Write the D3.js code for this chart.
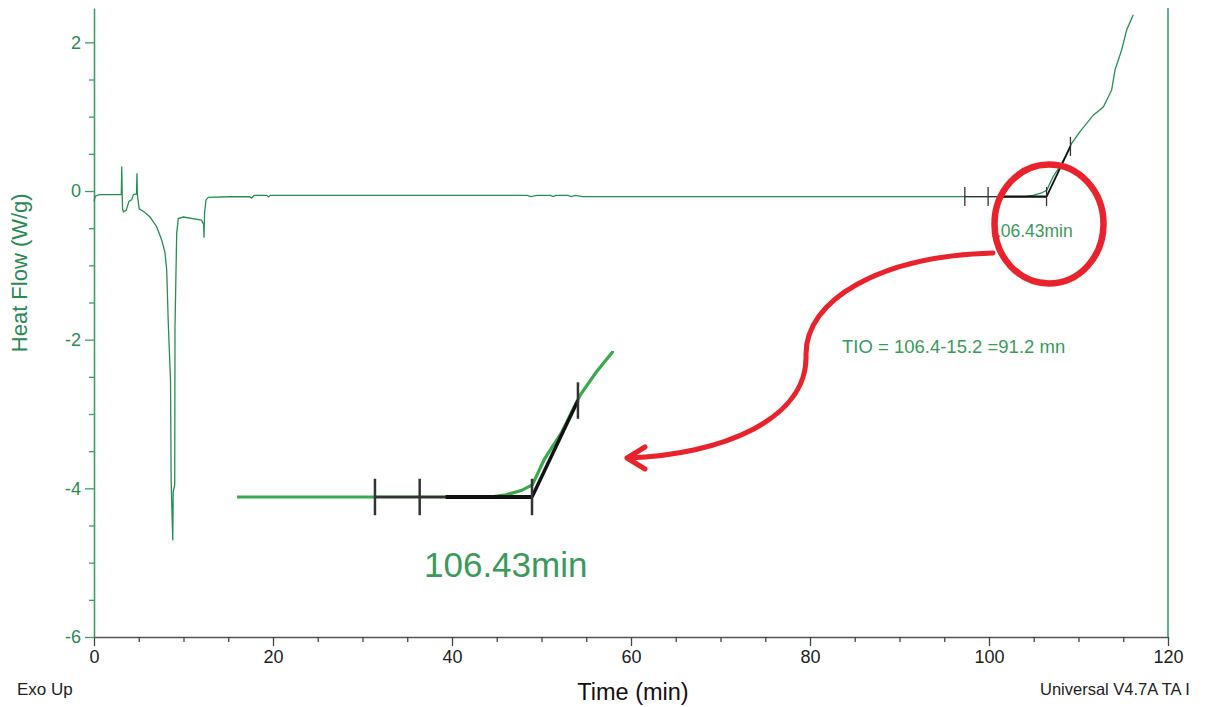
<!DOCTYPE html>
<html><head><meta charset="utf-8">
<script src="https://cdn.jsdelivr.net/npm/d3@7"></script>
<style>
body{margin:0;background:#fff}
svg{display:block}
text{font-family:"Liberation Sans",Arial,Helvetica,sans-serif}
</style></head>
<body><svg id="c" width="1207" height="707"></svg>
<script>
// ---- data ----
const time = [0,0.15,0.6,3.05,3.1,3.15,3.2,3.3,3.6,3.9,4.2,4.4,4.75,4.8,4.85,5.05,5.7,6.26,7.0,7.56,7.93,8.12,8.3,8.55,8.62,8.8,8.85,9.02,9.05,9.24,9.42,9.98,12.0,12.25,12.29,12.35,12.51,12.77,15.2,17.4,17.6,17.9,18.2,19.3,19.5,19.7,48.4,48.8,49.5,51.0,51.3,51.6,53.0,53.3,53.8,54.6,60,80,97,104,104.9,105.8,106.45,107.15,108.12,109.24,110.17,111.65,112.77,113.71,114.08,114.83,115.39,116.12];
const heatFlow = [-0.14,-0.07,-0.05,-0.05,0.33,-0.05,-0.25,-0.28,-0.26,-0.14,-0.12,-0.05,-0.04,0.24,-0.05,-0.24,-0.29,-0.35,-0.48,-0.66,-0.83,-1.06,-1.78,-2.55,-3.9,-4.7,-4.05,-3.95,-1.83,-0.57,-0.37,-0.35,-0.39,-0.45,-0.63,-0.3,-0.12,-0.085,-0.077,-0.077,-0.095,-0.06,-0.058,-0.058,-0.08,-0.058,-0.058,-0.075,-0.06,-0.06,-0.075,-0.06,-0.06,-0.075,-0.06,-0.075,-0.075,-0.075,-0.075,-0.075,-0.06,-0.03,0.01,0.19,0.37,0.64,0.80,1.02,1.13,1.36,1.63,1.90,2.17,2.37];

const xMajor = [0,20,40,60,80,100,120];
const xMinor = d3.range(0,121,5).filter(v => v % 20 !== 0);
const yMajor = [-6,-4,-2,0,2];
const yMinor = d3.range(-6,2.01,0.5).filter(v => v % 2 !== 0);

// onset analysis
const baselineMarks = [97.3, 99.9];
const onsetTime = 106.43;
const baselineValue = -0.075;
const thickStart = 101.4;
const tangentEnd = [109.1, 0.6];
const onsetLabel = "106.43min";
const tioLabel = "TIO = 106.4-15.2 =91.2 mn";

// ---- drawing ----
const svg = d3.select("#c");
const green = "#248f52", axisGreen = "#3aa06a", textGreen = "#2a8a52", red = "#e8232b";
const fmt = d => String(d);

const x = d3.scaleLinear().domain([0,120]).range([94,1168]);
const y = d3.scaleLinear().domain([-6,2.462]).range([637,8]);

const pts = time.map((t,i)=>[t,heatFlow[i]]);

// axes
const gx = svg.append("g").attr("transform","translate(0,637)");
gx.call(d3.axisBottom(x).tickValues(xMajor).tickSize(9).tickPadding(4).tickSizeOuter(0).tickFormat(fmt));
gx.select(".domain").attr("stroke","#555").attr("stroke-width",1.6);
gx.selectAll(".tick line").attr("stroke","#444").attr("stroke-width",1.3);
gx.selectAll(".tick text").attr("fill","#222").style("font-size","18px");
const gxm = svg.append("g").attr("transform","translate(0,637)");
gxm.call(d3.axisBottom(x).tickValues(xMinor).tickSize(5).tickFormat(""));
gxm.select(".domain").remove();
gxm.selectAll(".tick line").attr("stroke","#444").attr("stroke-width",1.3);

const gy = svg.append("g").attr("transform","translate(94,0)");
gy.call(d3.axisLeft(y).tickValues(yMajor).tickSize(9).tickPadding(4).tickSizeOuter(0).tickFormat(fmt));
gy.select(".domain").attr("stroke",axisGreen).attr("stroke-width",1.6);
gy.selectAll(".tick line").attr("stroke",axisGreen).attr("stroke-width",1.3);
gy.selectAll(".tick text").attr("fill",textGreen).style("font-size","18px");
const gym = svg.append("g").attr("transform","translate(94,0)");
gym.call(d3.axisLeft(y).tickValues(yMinor).tickSize(5).tickFormat(""));
gym.select(".domain").remove();
gym.selectAll(".tick line").attr("stroke",axisGreen).attr("stroke-width",1.3);

// right frame line
svg.append("line").attr("x1",x(120)).attr("x2",x(120)).attr("y1",y(2.462)).attr("y2",y(-6))
  .attr("stroke",axisGreen).attr("stroke-width",1.6);

// labels
svg.append("text").attr("transform",`translate(27,${(y(-1.1))}) rotate(-90)`)
  .attr("text-anchor","middle").attr("fill",textGreen).style("font-size","22px").text("Heat Flow (W/g)");
svg.append("text").attr("x",633).attr("y",700).attr("text-anchor","middle").attr("fill","#111")
  .style("font-size","23.5px").text("Time (min)");
svg.append("text").attr("x",17).attr("y",695).attr("fill","#222").style("font-size","17px").text("Exo Up");
svg.append("text").attr("x",1040).attr("y",695).attr("fill","#222").style("font-size","16.5px").text("Universal V4.7A TA I");

// main curve
const line = d3.line().x(d=>x(d[0])).y(d=>y(d[1]));
svg.append("path").datum(pts).attr("d",line).attr("fill","none").attr("stroke",green).attr("stroke-width",1.3);

// onset analysis construction
function analysis(g, xs, ys, k){
  g.append("line").attr("x1",xs(baselineMarks[0])).attr("x2",xs(thickStart)).attr("y1",ys(baselineValue)).attr("y2",ys(baselineValue))
    .attr("stroke","#333").attr("stroke-width",1.2*k);
  g.append("line").attr("x1",xs(thickStart)).attr("x2",xs(onsetTime)).attr("y1",ys(baselineValue)).attr("y2",ys(baselineValue))
    .attr("stroke","#111").attr("stroke-width",2.2*k);
  g.append("line").attr("x1",xs(onsetTime)).attr("x2",xs(tangentEnd[0])).attr("y1",ys(baselineValue)).attr("y2",ys(tangentEnd[1]))
    .attr("stroke","#111").attr("stroke-width",1.8*k);
  const marks = [[baselineMarks[0],baselineValue],[baselineMarks[1],baselineValue],[onsetTime,baselineValue],tangentEnd];
  g.selectAll(null).data(marks).join("line")
    .attr("x1",d=>xs(d[0])).attr("x2",d=>xs(d[0]))
    .attr("y1",d=>ys(d[1])-9.5*k).attr("y2",d=>ys(d[1])+9.5*k)
    .attr("stroke","#333").attr("stroke-width",1.3*k);
}
analysis(svg.append("g"), x, y, 1);

svg.append("text").attr("x",991).attr("y",237).attr("fill","#3a9a5a").style("font-size","17.5px").text(onsetLabel);
svg.append("text").attr("x",842).attr("y",353).attr("fill","#3a9a5a").style("font-size","18.5px").text(tioLabel);

// inset (magnified view of the onset)
const xi = d3.scaleLinear().domain([89.28,111.08]).range([237,612]);
const yi = d3.scaleLinear().domain([-0.075,0.94]).range([497,352]);
svg.append("clipPath").attr("id","ic").append("rect").attr("x",237).attr("y",351).attr("width",377).attr("height",240);
const gi = svg.append("g").attr("clip-path","url(#ic)");
const linei = d3.line().x(d=>xi(d[0])).y(d=>yi(d[1]));
gi.append("path").datum(pts).attr("d",linei).attr("fill","none").attr("stroke","#3aa84e").attr("stroke-width",3.2);
analysis(gi, xi, yi, 1.92);
svg.append("text").attr("x",424).attr("y",577).attr("fill","#3a9a5a").style("font-size","35px").text(onsetLabel);

// red annotation
svg.append("ellipse").attr("cx",1049).attr("cy",224).attr("rx",54.5).attr("ry",59.5)
  .attr("fill","none").attr("stroke",red).attr("stroke-width",6.5);
svg.append("path").attr("d","M993,253 C880,256 805,300 806,355 C808,420 720,455 628,458")
  .attr("fill","none").attr("stroke",red).attr("stroke-width",5).attr("stroke-linecap","round");
svg.append("path").attr("d","M645,447 L627,458 L645,469")
  .attr("fill","none").attr("stroke",red).attr("stroke-width",5).attr("stroke-linecap","round").attr("stroke-linejoin","round");
</script></body></html>
